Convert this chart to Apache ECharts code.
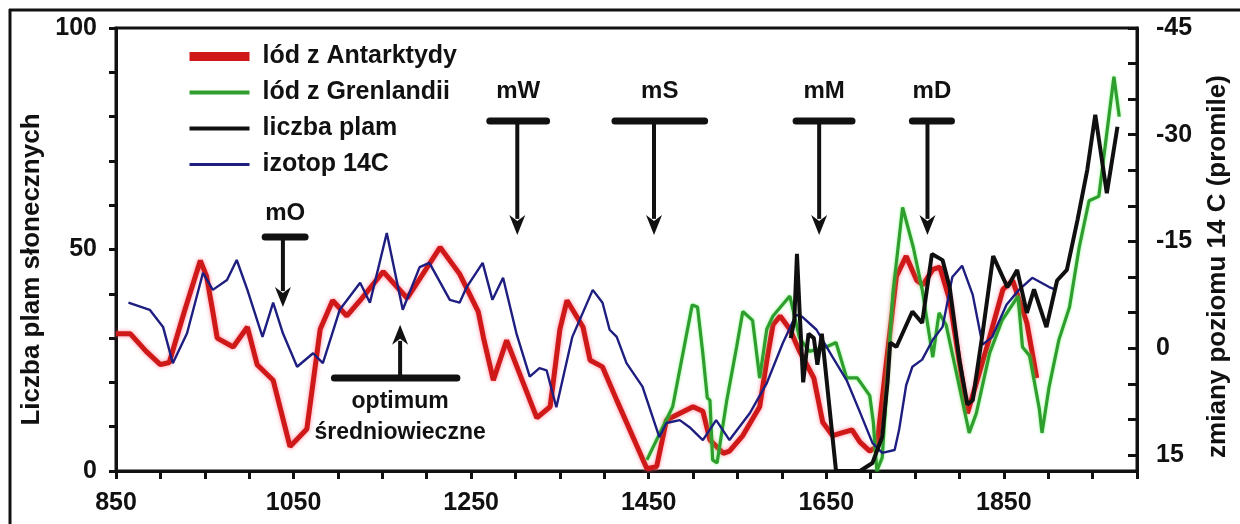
<!DOCTYPE html>
<html><head><meta charset="utf-8">
<script src="https://cdn.jsdelivr.net/npm/echarts@6/dist/echarts.min.js"></script>
<style>html,body{margin:0;padding:0;background:#fff}#c{width:1240px;height:524px}</style>
</head><body><div id="c"></div>
<script>
// ---- data (year, value) ----
const seriesNames = ['lód z Antarktydy', 'lód z Grenlandii', 'liczba plam', 'izotop 14C'];
const antarktyda = [[850,31],[866,31],[884,27],[900,24],[910,24.5],[927,36],[945,47.5],[952,44],[959,36],[964,30],[982,28],[998,32.5],[1009,24],[1027,20.5],[1046,5.5],[1065,9.5],[1080,32],[1094,38.5],[1110,35],[1125,38.5],[1151,45],[1178,39],[1215,50.5],[1237,44.5],[1258,36],[1264,30],[1275,20.5],[1290,29.5],[1324,12],[1339,14.5],[1350,32],[1358,38.5],[1376,32.5],[1384,25],[1398,23.5],[1414,16],[1448,0.5],[1459,1],[1470,11.5],[1500,14.5],[1511,13.5],[1519,7],[1534,4],[1541,4.5],[1556,8],[1575,14.5],[1583,25],[1590,33],[1598,35],[1609,32],[1620,27],[1636,21],[1646,11],[1657,8],[1679,9.3],[1688,6.5],[1699,4.5],[1707,5.5],[1718,25],[1729,44],[1740,48.5],[1752,43],[1759,42],[1770,45.5],[1778,46],[1789,38.6],[1809,13],[1831,28],[1849,41],[1860,43],[1876,33.4],[1887,21]];
const grenlandia = [[1448,2.5],[1477,14.5],[1499,37.5],[1505,37],[1511,26.5],[1516,16.5],[1519,16],[1522,2.5],[1527,1.8],[1538,16],[1549,28],[1556,36],[1567,34],[1575,21],[1583,32],[1590,35],[1609,39.5],[1620,30],[1631,27],[1650,28],[1661,29],[1673,21],[1685,21],[1699,17],[1703,11],[1707,0],[1713,3],[1725,40],[1736,59.5],[1748,50.5],[1758,41],[1770,25.7],[1777,35.7],[1785,33],[1800,19],[1811,8.6],[1819,13],[1834,26.6],[1848,34],[1866,39.5],[1871,28],[1879,26],[1890,14],[1893,8.6],[1901,19],[1912,29.6],[1924,37],[1935,50.6],[1946,61],[1957,62],[1974,89],[1980,80]];
const plamy = [[1610,30],[1614,34],[1617,49],[1620,36],[1624,20],[1630,31],[1636,30],[1640,24],[1645,31],[1661,0],[1688,0],[1702,1.8],[1713,7.7],[1719,20],[1722,29],[1729,28],[1747,36],[1758,33.4],[1769,49],[1781,47.6],[1789,41.5],[1800,25],[1809,15],[1815,16],[1826,31],[1838,48.5],[1854,41.5],[1865,45.4],[1876,35.7],[1884,41],[1898,32.5],[1910,43],[1921,45.4],[1933,56.7],[1944,68],[1953,80.4],[1966,62.7],[1978,77.7]];
const izotop14C = [[864,-6.4],[888,-5.4],[903,-3.0],[914,2.1],[930,-2.1],[948,-10.6],[959,-8.2],[975,-9.6],[986,-12.4],[998,-8.2],[1015,-1.6],[1027,-6.4],[1038,-2.1],[1054,2.6],[1072,0.7],[1083,2.1],[1102,-5.4],[1125,-9.2],[1136,-6.4],[1155,-16.2],[1173,-5.4],[1192,-11.4],[1203,-12.0],[1226,-6.8],[1237,-6.4],[1245,-8.6],[1263,-12.0],[1274,-6.8],[1286,-9.9],[1301,-2.1],[1316,4.0],[1327,2.8],[1335,3.1],[1346,8.3],[1364,-1.6],[1387,-8.2],[1398,-6.4],[1406,-2.6],[1414,-1.6],[1425,2.1],[1443,5.4],[1462,12.5],[1470,10.5],[1485,10.1],[1496,11.1],[1511,12.9],[1526,10.1],[1541,12.9],[1564,9.1],[1583,4.9],[1601,-0.7],[1616,-4.7],[1623,-4.4],[1639,-2.6],[1657,1.2],[1673,4.5],[1687,8.7],[1702,13.3],[1713,14.7],[1727,14.3],[1732,11.5],[1740,5.2],[1747,2.6],[1758,1.6],[1770,-1.2],[1781,-3.0],[1792,-10.0],[1803,-11.6],[1815,-7.5],[1826,-0.5],[1837,-1.6],[1853,-6.1],[1867,-8.2],[1882,-9.9],[1901,-8.6],[1909,-8.2]];
const bottomTickLabels = [850, 1050, 1250, 1450, 1650, 1850];
const leftTickLabels = [0, 50, 100];
const rightTickLabels = [-45, -30, -15, 0, 15];
// epochs: label, stem year, bar from/to year, label/bar/tip level (left-axis units)
const epochLabels = ['mO', 'mW', 'mS', 'mM', 'mD'];
const epochYears = [1038, 1302, 1456, 1642, 1764];
const epochBarFrom = [1018, 1271, 1412, 1616, 1747];
const epochBarTo = [1063, 1335, 1513, 1679, 1791];
const epochLabelLevel = [58.2, 85.6, 85.6, 85.6, 85.6];
const epochBarLevel = [52.8, 79, 79, 79, 79];
const epochTipLevel = [37, 53.3, 53.3, 53.3, 53.3];
const optimumLabel = ['optimum', 'średniowieczne'];
const optimumYear = 1170, optimumBarFrom = 1096, optimumBarTo = 1234;
const optimumTipLevel = 33, optimumBarLevel = 21, optimumTextLevels = [15.6, 8.6];

const FONT = '"Liberation Sans", Arial, sans-serif';
const INK = '#111';
const chart = echarts.init(document.getElementById('c'), null, {renderer: 'canvas'});

const colors = ['#cf1818', '#2f9e2f', '#101010', '#1e1e80'];
const option = {
  animation: false,
  backgroundColor: '#fff',
  grid: {left: 116, right: 103, top: 28, bottom: 53, show: true, borderColor: INK, borderWidth: 3},
  legend: {
    orient: 'vertical', left: 180, top: 39, itemWidth: 60, itemHeight: 14, itemGap: 11,
    itemStyle: {opacity: 0},
    textStyle: {fontSize: 25, fontWeight: 'bold', color: INK, fontFamily: FONT, lineHeight: 25, padding: [0, 0, 0, 8]},
    data: [
      {name: seriesNames[0], lineStyle: {width: 9}},
      {name: seriesNames[1], lineStyle: {width: 4}},
      {name: seriesNames[2], lineStyle: {width: 4}},
      {name: seriesNames[3], lineStyle: {width: 3}}
    ]
  },
  xAxis: {
    type: 'value', min: 850, max: 2000, interval: 50,
    axisLine: {lineStyle: {color: INK, width: 3}},
    axisTick: {show: true, inside: false, length: 8, lineStyle: {color: INK, width: 3}},
    splitLine: {show: false},
    axisLabel: {margin: 20, fontSize: 25, fontWeight: 'bold', color: INK, fontFamily: FONT,
      formatter: v => bottomTickLabels.includes(v) ? String(v) : ''}
  },
  yAxis: [{
    type: 'value', min: 0, max: 100, interval: 10, position: 'left',
    name: 'Liczba plam słonecznych', nameLocation: 'middle', nameRotate: 90, nameGap: 64,
    nameTextStyle: {fontSize: 26, fontWeight: 'bold', color: INK, fontFamily: FONT, padding: [0, 40, 0, 0]},
    axisLine: {show: true, lineStyle: {color: INK, width: 3}},
    axisTick: {show: true, inside: false, length: 7, lineStyle: {color: INK, width: 3}},
    splitLine: {show: false},
    axisLabel: {margin: 19, fontSize: 25, fontWeight: 'bold', color: INK, fontFamily: FONT,
      formatter: v => leftTickLabels.includes(v) ? String(v) : ''}
  }, {
    type: 'value', min: -45, max: 17.25, interval: 5, inverse: true, position: 'right',
    name: 'zmiany poziomu 14 C (promile)', nameLocation: 'middle', nameRotate: 90, nameGap: 68,
    nameTextStyle: {fontSize: 26, fontWeight: 'bold', color: INK, fontFamily: FONT, padding: [0, 34, 0, 0]},
    axisLine: {show: true, lineStyle: {color: INK, width: 3}},
    axisTick: {show: true, inside: true, length: 9, lineStyle: {color: INK, width: 3}},
    splitLine: {show: false},
    axisLabel: {margin: 19, fontSize: 25, fontWeight: 'bold', color: INK, fontFamily: FONT,
      formatter: v => rightTickLabels.includes(v) ? String(v) : ''}
  }],
  series: [
    {name: seriesNames[0], type: 'line', data: antarktyda, showSymbol: false, symbol: 'none', z: 2,
      color: colors[0], lineStyle: {color: colors[0], width: 5, shadowColor: 'rgba(255,90,120,0.7)', shadowBlur: 4}},
    {name: seriesNames[1], type: 'line', data: grenlandia, showSymbol: false, symbol: 'none', z: 3,
      color: colors[1], lineStyle: {color: colors[1], width: 3.2, shadowColor: 'rgba(90,255,90,0.7)', shadowBlur: 3}},
    {name: seriesNames[2], type: 'line', data: plamy, showSymbol: false, symbol: 'none', z: 5,
      color: colors[2], lineStyle: {color: colors[2], width: 4}},
    {name: seriesNames[3], type: 'line', data: izotop14C, yAxisIndex: 1, showSymbol: false, symbol: 'none', z: 4,
      color: colors[3], lineStyle: {color: colors[3], width: 2.4}}
  ]
};
chart.setOption(option);

function px(year, level) {
  return chart.convertToPixel({xAxisIndex: 0, yAxisIndex: 0}, [year, level]);
}
const g = [];
// outer frame of the picture
g.push({type: 'line', shape: {x1: 9, y1: 10, x2: 1240, y2: 10}, style: {stroke: INK, lineWidth: 3}, z: 10});
g.push({type: 'line', shape: {x1: 10, y1: 9, x2: 10, y2: 524}, style: {stroke: INK, lineWidth: 3}, z: 10});

function arrow(stemYear, barFrom, barTo, barLevel, tipLevel, up) {
  const b1 = px(barFrom, barLevel), b2 = px(barTo, barLevel), s = px(stemYear, barLevel), t = px(stemYear, tipLevel);
  const head = 20, hw = 8;
  g.push({type: 'line', shape: {x1: b1[0], y1: b1[1], x2: b2[0], y2: b2[1]}, style: {stroke: INK, lineWidth: 7, lineCap: 'round'}, z: 20});
  const dir = up ? 1 : -1;
  g.push({type: 'line', shape: {x1: s[0], y1: s[1], x2: t[0], y2: t[1] + dir * head * 0.8}, style: {stroke: INK, lineWidth: 4}, z: 20});
  g.push({type: 'polygon', shape: {points: [[t[0], t[1]], [t[0] - hw, t[1] + dir * head], [t[0], t[1] + dir * head * 0.7], [t[0] + hw, t[1] + dir * head]]}, style: {fill: INK}, z: 20});
}
for (let i = 0; i < epochLabels.length; i++) {
  arrow(epochYears[i], epochBarFrom[i], epochBarTo[i], epochBarLevel[i], epochTipLevel[i], false);
  const p = px((epochBarFrom[i] + epochBarTo[i]) / 2, epochLabelLevel[i]);
  g.push({type: 'text', x: p[0], y: p[1], z: 20, style: {text: epochLabels[i], fill: INK, font: 'bold 24px ' + FONT, align: 'center', verticalAlign: 'middle'}});
}
arrow(optimumYear, optimumBarFrom, optimumBarTo, optimumBarLevel, optimumTipLevel, true);
for (let i = 0; i < optimumLabel.length; i++) {
  const p = px((optimumBarFrom + optimumBarTo) / 2 + 5, optimumTextLevels[i]);
  g.push({type: 'text', x: p[0], y: p[1], z: 20, style: {text: optimumLabel[i], fill: INK, font: 'bold 23px ' + FONT, align: 'center', verticalAlign: 'middle'}});
}
chart.setOption({graphic: g});
</script></body></html>
